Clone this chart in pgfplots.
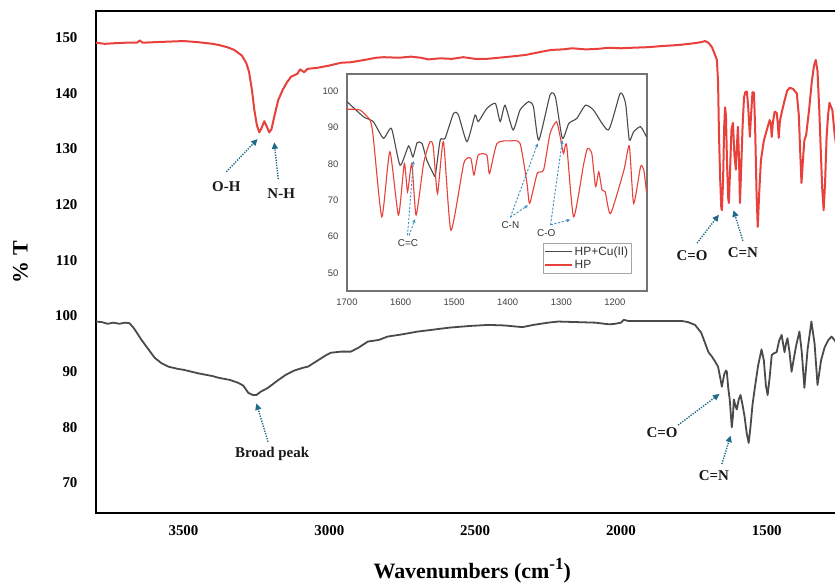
\documentclass[border=0pt]{standalone}
\usepackage{fontspec}
\setmainfont{Liberation Serif}
\setsansfont{Liberation Sans}
\usepackage{pgfplots}
\pgfplotsset{compat=1.18}
\usetikzlibrary{arrows.meta}
\definecolor{hpred}{HTML}{E8403A}
\definecolor{cugray}{HTML}{4A4A4A}
\definecolor{annot}{HTML}{1F6A8A}
\definecolor{inannot}{HTML}{3F8FC0}
\tikzset{
  ann/.style={annot, line width=1.4bp, dash pattern=on 1.3bp off 1.3bp, -{Triangle[length=6.5bp,width=6bp]}},
  inann/.style={inannot, line width=0.9bp, dash pattern=on 2.2bp off 1.6bp, -{Triangle[length=3.5bp,width=3bp]}},
  lab/.style={font=\bfseries\fontsize{15}{15}\selectfont, text=black!90},
  inlab/.style={font=\sffamily\fontsize{10}{10}\selectfont, text=black!80},
}
\begin{document}
\begin{tikzpicture}
\useasboundingbox (-96bp,-70bp) rectangle (739bp,513bp);
\begin{axis}[
  at={(0,0)}, anchor=south west,
  scale only axis, width=745bp, height=502bp,
  xmin=1245.5, xmax=3800, x dir=reverse,
  ymin=64.6, ymax=154.8,
  axis line style={line width=1.6bp, black},
  xtick={1500,2000,2500,3000,3500},
  ytick={70,80,...,150},
  major tick length=0pt,
  /pgf/number format/assume math mode=true,
  /pgf/number format/1000 sep={},
  tick label style={font=\bfseries\fontsize{15}{15}\selectfont},
  yticklabel style={xshift=-15bp},
  xticklabel style={yshift=-9bp},
  xlabel={\textbf{Wavenumbers (cm\raisebox{0.42em}{\fontsize{17}{17}\selectfont -1})}},
  ylabel={\textbf{\% T}},
  label style={font=\fontsize{22}{24}\selectfont},
  xlabel style={at={(axis description cs:0.505,-0.1155)}, anchor=center},
  ylabel style={at={(axis description cs:-0.1015,0.5)}, anchor=center},
]
\addplot[hpred, line width=2bp, line join=round] coordinates {
(3800,149.1) (3770,148.9) (3740,149.0) (3700,149.1) (3660,149.1) (3650,149.5) (3640,149.1)
(3600,149.2) (3550,149.3) (3500,149.4) (3450,149.2) (3400,148.9) (3380,148.7) (3350,148.3)
(3326,147.8) (3300,146.8) (3285,145.5) (3275,143.8) (3265,140.5) (3257,137.0) (3248,134.2)
(3240,133.0) (3232,133.8) (3223,135.0) (3214,134.0) (3206,133.0) (3198,133.6) (3188,136.0)
(3175,138.8) (3160,140.6) (3145,142.0) (3131,143.0) (3110,143.5) (3100,144.3) (3086,143.8)
(3075,144.4) (3040,144.6) (3000,145.0) (2960,145.5) (2925,145.6) (2880,146.0) (2840,146.4)
(2813,146.5) (2760,146.4) (2720,146.6) (2686,146.4) (2660,146.1) (2620,146.3) (2580,146.2)
(2540,146.5) (2500,146.2) (2460,146.2) (2420,146.4) (2380,146.6) (2327,146.9) (2280,147.4)
(2240,147.8) (2200,147.9) (2167,148.1) (2120,147.9) (2080,148.0) (2040,148.2) (2000,148.1)
(1960,148.2) (1907,148.3) (1860,148.5) (1800,148.7) (1750,149.0) (1725,149.2) (1712,149.4)
(1700,149.1) (1688,148.3) (1678,147.0) (1671,146.0) (1667,142) (1664,133) (1660,125)
(1656,119.5) (1654,119.0) (1650,124) (1646,134) (1643,137.5) (1640,136) (1636,127)
(1632,121) (1630,120.3) (1626,126) (1621,133.5) (1616,134.7) (1611,129) (1606,126.3)
(1602,131) (1599,134.0) (1595,128) (1592,120.3) (1588,126) (1583,134) (1578,139.3)
(1573,140.3) (1568,140.3) (1563,137) (1558,132.2) (1554,136) (1549,140.2) (1544,140.2)
(1540,134) (1535,122) (1531,116.0) (1526,122) (1520,128) (1510,131.5) (1500,133.4)
(1490,135.2) (1486,134.6) (1483,132.2) (1479,134.8) (1473,136.7) (1466,136.5) (1462,134.5)
(1459,132) (1455,135) (1449,136.5) (1440,138.5) (1430,140.5) (1421,141) (1410,140.8)
(1397,140.0) (1390,136) (1385,129) (1381,123.9) (1376,128) (1371,131.6) (1365,132.5)
(1355,137) (1346,141.9) (1338,145) (1332,146) (1326,144) (1320,137) (1315,130)
(1310,123) (1305,119) (1300,124) (1295,132) (1290,136) (1285,138.3) (1275,137)
(1268,133) (1258,129) (1245,131)
};
\addplot[cugray, line width=1.8bp, line join=round] coordinates {
(3800,99.0) (3780,98.9) (3760,98.6) (3740,98.8) (3720,98.6) (3700,98.8) (3685,98.7)
(3670,97.8) (3655,96.6) (3644,95.7) (3620,94.0) (3599,92.5) (3575,91.5) (3552,90.9)
(3520,90.5) (3497,90.3) (3450,89.7) (3400,89.2) (3380,88.9) (3340,88.5) (3313,88.0)
(3295,87.5) (3278,86.2) (3262,85.8) (3250,85.8) (3235,86.4) (3210,87.1) (3180,88.3)
(3150,89.4) (3120,90.2) (3090,90.7) (3073,90.9) (3040,92.0) (3010,93.0) (2994,93.4)
(2960,93.6) (2926,93.6) (2900,94.3) (2868,95.4) (2830,95.7) (2800,96.3) (2750,96.7)
(2697,97.2) (2650,97.5) (2590,97.9) (2520,98.2) (2454,98.4) (2400,98.3) (2338,98.0)
(2300,98.4) (2250,98.8) (2215,99.0) (2150,98.9) (2088,98.8) (2040,98.5) (2020,98.6)
(2000,98.8) (1990,99.3) (1975,99.1) (1900,99.1) (1850,99.1) (1791,99.1) (1770,98.9)
(1746,98.4) (1725,97) (1712,95.2) (1700,93.5) (1688,92.7) (1677,91.8) (1667,90.9)
(1660,89) (1654,87.3) (1646,89.5) (1640,90.2) (1637,90.0) (1632,87) (1627,85)
(1620,80) (1616,82) (1613,85) (1608,84) (1603,83.2) (1596,85) (1590,85.8)
(1583,84) (1576,81.9) (1569,79) (1562,77.2) (1556,80) (1549,84) (1542,86.7)
(1530,91) (1518,94.0) (1510,92) (1503,87.5) (1497,85.8) (1490,89) (1483,93.0)
(1475,93.3) (1466,93.5) (1458,95.5) (1449,96.6) (1444,95) (1439,93.5) (1434,95)
(1429,96.0) (1422,93.5) (1415,90.0) (1400,94.5) (1388,97.2) (1380,93.5) (1371,87.1)
(1360,94) (1347,99.0) (1336,95) (1326,87.6) (1314,92) (1302,94.3) (1290,95.6)
(1278,96.3) (1268,95.7) (1255,94.5) (1245,95)
};
% annotations
\draw[ann] (3353,125.9) -- (3246,131.8);
\node[lab] at (3353,123.2) {O-H};
\draw[ann] (3175,124.6) -- (3189,131.2);
\node[lab] at (3165,122.0) {N-H};
\draw[ann] (1739,113.1) -- (1664,118.2);
\node[lab] at (1756,110.9) {C=O};
\draw[ann] (1582,113.5) -- (1614,119.0);
\node[lab] at (1582,111.4) {C=N};
\draw[ann] (1804,80.4) -- (1662,86.0);
\node[lab] at (1859,79.0) {C=O};
\draw[ann] (1654,73.4) -- (1624,78.5);
\node[lab] at (1681,71.4) {C=N};
\draw[ann] (3210,77.4) -- (3250,84.3);
\node[lab] at (3196,75.3) {Broad peak};
\end{axis}

\begin{axis}[
  at={(251bp,222bp)}, anchor=south west,
  scale only axis, width=300bp, height=217bp,
  xmin=1140, xmax=1700, x dir=reverse,
  ymin=45, ymax=104.7,
  axis line style={draw=black!55, line width=1.1bp},
  axis background/.style={fill=white},
  xtick={1200,1300,1400,1500,1600,1700},
  ytick={50,60,70,80,90,100},
  major tick length=0pt,
  /pgf/number format/assume math mode=true,
  /pgf/number format/1000 sep={},
  tick label style={font=\sffamily\fontsize{9.5}{10}\selectfont, text=black!75},
  yticklabel style={xshift=-5bp},
  xticklabel style={yshift=-4bp},
  legend style={at={(0.95,0.08)}, anchor=south east, draw=black!35, line width=0.6bp,
    font=\sffamily\fontsize{12}{13}\selectfont, inner sep=1.5bp, row sep=-0.5bp, text=black!80},
  legend cell align=left,
  legend image code/.code={\draw[#1] (0bp,0bp) -- (27bp,0bp);},
]
\addplot[cugray, line width=1.1bp, smooth, tension=0.35] coordinates {
(1700,97.1) (1669,92.9) (1651,91.6) (1632,87) (1617,89.7) (1601,79.6) (1585,84.9)
(1577,81.9) (1569,85.8) (1560,85.6) (1551,81) (1539,77.3) (1535,76.9) (1526,86.5)
(1517,87) (1501,93.9) (1492,93.4) (1476,86.1) (1461,93.4) (1455,91.6) (1439,95.2)
(1423,96.6) (1414,91.6) (1405,96.1) (1390,89.3) (1377,94.8) (1361,97.1) (1352,95.7)
(1342,86.5) (1321,98.9) (1311,98.4) (1298,87) (1286,91.1) (1271,92.5) (1255,96.1)
(1240,94.8) (1212,89.3) (1190,99.4) (1180,96.6) (1173,86.5) (1165,88.8) (1152,90.2)
(1141,87.4)
};
\addlegendentry{HP+Cu(II)}
\addplot[hpred, line width=1.1bp, smooth, tension=0.35] coordinates {
(1700,95) (1676,94.8) (1657,92) (1651,87.4) (1635,65.4) (1620,83.3) (1604,65.9)
(1593,80.1) (1587,72.3) (1579,80.1) (1571,65.9) (1557,80.1) (1545,86.1) (1539,84.7)
(1531,71.8) (1520,86.1) (1506,61.7) (1482,80.1) (1469,81.5) (1463,76.9) (1455,82.4)
(1439,82.4) (1434,77.3) (1420,85.6) (1395,86.3) (1377,85.6) (1364,74.6) (1359,69.1)
(1345,77.3) (1333,78.3) (1321,88.3) (1309,91.6) (1302,87.4) (1296,82.8) (1290,85.1)
(1277,65.4) (1258,80.1) (1251,84.2) (1243,82.8) (1236,73.7) (1230,77.8) (1224,72.8)
(1218,72.3) (1208,66.3) (1183,78.3) (1173,84.9) (1165,69.1) (1152,79.2) (1146,78.3)
(1141,72.3)
};
\addlegendentry{HP}
\draw[inann] (1587,60.3) -- (1576,80.8);
\draw[inann] (1584,60.3) -- (1573,64.8);
\node[inlab] at (1586,58.2) {C=C};
\draw[inann] (1395,65.3) -- (1344,85.6);
\draw[inann] (1395,65.3) -- (1362,68.6);
\node[inlab] at (1395,63.1) {C-N};
\draw[inann] (1320,63.2) -- (1298,86.5);
\draw[inann] (1320,63.2) -- (1283,64.6);
\node[inlab] at (1328,60.8) {C-O};
\end{axis}
\end{tikzpicture}
\end{document}
